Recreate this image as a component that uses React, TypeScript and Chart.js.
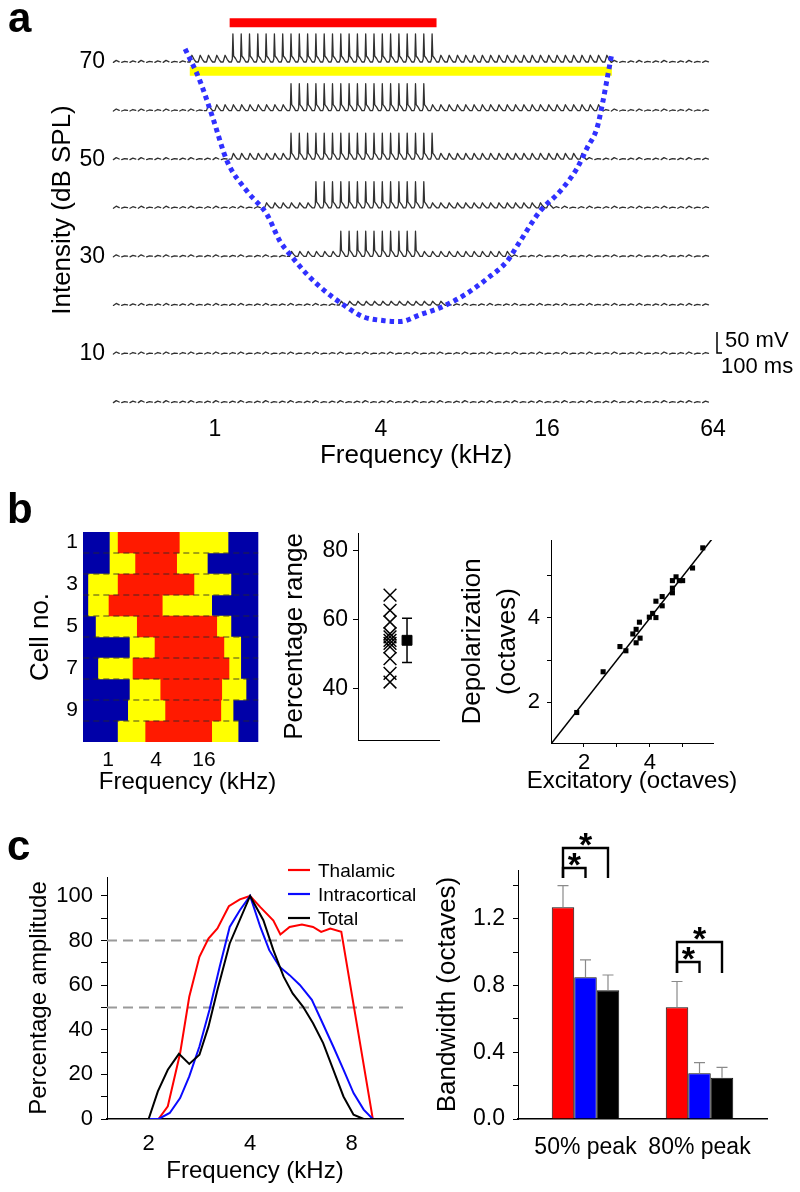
import React, { useEffect, useRef } from "react";
import { Chart, registerables } from "chart.js";

Chart.register(...registerables);

const FONT = "'Liberation Sans', Arial, Helvetica, sans-serif";
Chart.defaults.font.family = FONT;
Chart.defaults.color = "#000";

/* ================= DATA ================= */

/* ---- panel a : tuning-curve traces ---- */
const aFreqTicksKHz = [1, 4, 16, 64];
const aLevelTicksDB = [10, 30, 50, 70];
const traceLevelsDB = [70, 60, 50, 40, 30, 20, 10, 0];
const traceSpikeLoKHz = [1.16, 1.77, 1.77, 2.3, 2.68, 0, 0, 0];
const traceSpikeHiKHz = [6.2, 5.8, 6.2, 5.8, 5.4, 0, 0, 0];
const tracePspLoKHz = [0.8, 0.92, 1.09, 1.48, 1.87, 2.83, 0, 0];
const tracePspHiKHz = [27.5, 25.3, 21.4, 16.7, 11.7, 6.96, 0, 0];
const traceSpikeMV = [67, 64, 62, 62, 60, 0, 0, 0];
const tracePspMV = [16, 14, 14, 12, 12, 9, 0, 0];
const toneLowKHz = 0.44;
const toneHighKHz = 60;
const tonesPerOctave = 10;
const thresholdKHz = [0.779, 0.882, 0.983, 1.106, 1.307, 1.544, 1.721, 1.871, 2.156, 2.464, 2.912, 3.441, 4.067, 4.688, 5.541, 6.713, 8.202, 9.693, 11.456, 12.771, 15.095, 17.84, 20.55, 22.35, 24.29, 25.54, 26.63, 27.53];
const thresholdDB = [72.7, 66.1, 58.4, 49.6, 43.4, 38.6, 33.1, 30.4, 26.3, 23.2, 20.1, 17.6, 16.8, 16.6, 18.0, 19.7, 22.4, 25.4, 29.0, 33.1, 39.3, 43.4, 48.1, 52.3, 56.4, 62.0, 67.5, 71.9];
const spikeBarKHz = [1.13, 6.36];
const spikeBarDB = 78.1;
const subBarKHz = [0.81, 27.5];
const subBarDB = 68.1;
const scaleBarMV = 50;

/* ---- panel b : map ---- */
const cellLabels = ["1", "2", "3", "4", "5", "6", "7", "8", "9", "10"];
const yellowLoKHz = [1.06, 1.06, 0.57, 0.57, 0.71, 1.89, 0.76, 1.89, 1.8, 1.34];
const redLoKHz = [1.34, 2.22, 1.34, 1.03, 2.33, 3.89, 2.06, 4.59, 5.28, 2.97];
const redHiKHz = [7.84, 7.26, 11.96, 4.79, 23.1, 28.4, 32.9, 26.7, 26.0, 19.97];
const yellowHiKHz = [32.0, 17.6, 34.8, 19.97, 34.8, 46.2, 46.2, 53.8, 37.0, 42.8];
const mapLoKHz = 0.49;
const mapHiKHz = 76;
const mapTicksKHz = [1, 4, 16];

/* ---- panel b : percentage range ---- */
const pctRange = [67, 62.6, 59.2, 55.8, 54.9, 53.9, 53.0, 52.0, 48.6, 44.3, 41.8];
const pctMean = 53.9;
const pctSD = 6.4;
const pctTicks = [40, 60, 80];

/* ---- panel b : depolarization vs excitatory ---- */
const excOct = [1.78, 2.58, 3.09, 3.27, 3.48, 3.58, 3.58, 3.7, 3.68, 3.98, 4.08, 4.18, 4.18, 4.37, 4.37, 4.68, 4.68, 4.68, 4.79, 4.89, 4.99, 5.29, 5.6];
const depOct = [1.75, 2.72, 3.32, 3.22, 3.62, 3.73, 3.41, 3.52, 3.9, 4.02, 4.11, 4.01, 4.4, 4.51, 4.29, 4.6, 4.71, 4.89, 4.98, 4.89, 4.89, 5.19, 5.67];
const octTicks = [2, 3, 4, 5];

/* ---- panel c : tuning profiles ---- */
const thalKHz = [1.5, 2.14, 2.28, 2.48, 2.64, 2.83, 3.01, 3.2, 3.46, 3.73, 4.0, 4.29, 4.69, 4.92, 5.24, 5.7, 6.15, 6.5, 6.92, 7.46, 9.25, 11.4];
const thalAmp = [0, 0, 5.7, 29.5, 54.8, 72.7, 80.9, 85.4, 95.4, 98.5, 100, 95, 89, 82.7, 86.1, 87.2, 86.1, 83.9, 85.4, 83.9, 0, 0];
const intraKHz = [1.5, 2.14, 2.31, 2.48, 2.64, 2.83, 3.03, 3.25, 3.48, 3.73, 4.0, 4.29, 4.56, 4.89, 5.24, 5.62, 6.1, 6.5, 7.06, 7.57, 8.11, 8.69, 9.25, 11.4];
const intraAmp = [0, 0, 2.7, 9.4, 19.1, 32.5, 48.9, 68.3, 86.1, 93.6, 100, 86.1, 75.7, 68.3, 64.5, 60.1, 53.4, 44.4, 32.5, 22.1, 11.6, 4.2, 0, 0];
const totalKHz = [1.5, 2.0, 2.13, 2.28, 2.46, 2.64, 2.83, 3.01, 3.2, 3.48, 4.0, 4.38, 4.69, 5.03, 5.35, 5.74, 6.15, 6.59, 7.06, 7.57, 8.11, 8.69, 11.4];
const totalAmp = [0, 0, 12.4, 22.1, 29.2, 24.7, 28.8, 41.4, 57.8, 78.7, 100, 89.1, 75.7, 63.8, 56.3, 50.4, 42.9, 34.0, 22.1, 10.1, 1.9, 0, 0];
const refLevels = [80, 50];
const cFreqTicksKHz = [2, 4, 8];

/* ---- panel c : bandwidth ---- */
const groupLabels = ["50% peak", "80% peak"];
const groupPos = [1, 2];
const thalBW = [1.27, 0.67];
const thalErr = [0.13, 0.155];
const intraBW = [0.85, 0.274];
const intraErr = [0.105, 0.064];
const totalBW = [0.772, 0.248];
const totalErr = [0.092, 0.062];
const sigBrackets = [
  { group: 0, a: 0, b: 2, top: 1.626, foot: 1.446 },
  { group: 0, a: 0, b: 1, top: 1.506, foot: 1.446 },
  { group: 1, a: 0, b: 2, top: 1.062, foot: 0.876 },
  { group: 1, a: 0, b: 1, top: 0.942, foot: 0.876 },
];

/* ================= LAYOUT ================= */
type Box = { left: number; top: number; width: number; height: number };
type Area = { l: number; t: number; r: number; b: number };

const boxA: Box = { left: 0, top: 0, width: 800, height: 480 };
const areaA: Area = { l: 110, t: 10, r: 722, b: 410 };
const boxB1: Box = { left: 0, top: 480, width: 320, height: 330 };
const areaB1: Area = { l: 83, t: 532, r: 292, b: 742 };
const boxB2: Box = { left: 270, top: 480, width: 190, height: 330 };
const areaB2: Area = { l: 358, t: 533, r: 439, b: 740 };
const boxB3: Box = { left: 440, top: 480, width: 360, height: 330 };
const areaB3: Area = { l: 551, t: 540, r: 713, b: 743 };
const boxC1: Box = { left: 0, top: 780, width: 430, height: 412 };
const areaC1: Area = { l: 107, t: 877, r: 403, b: 1119 };
const boxC2: Box = { left: 430, top: 780, width: 370, height: 412 };
const areaC2: Area = { l: 518, t: 870, r: 767, b: 1119 };

const boxes = [boxA, boxB1, boxB2, boxB3, boxC1, boxC2];

const LH = 1.2;
function layoutFor(b: Box, a: Area) {
  return {
    autoPadding: false,
    padding: { left: 0, right: b.left + b.width - a.r, top: a.t - b.top, bottom: 0 },
  };
}
function fitLeft(b: Box, a: Area) {
  const w = a.l - b.left;
  return (s: any) => {
    s.width = w;
    s.paddingTop = 0; s.paddingBottom = 0; s.paddingLeft = 0; s.paddingRight = 0;
  };
}
function fitBottom(b: Box, a: Area) {
  const h = b.top + b.height - a.b;
  return (s: any) => {
    s.height = h;
    s.paddingTop = 0; s.paddingBottom = 0; s.paddingLeft = 0; s.paddingRight = 0;
  };
}
const leftTitlePad = (b: Box, cx: number, size: number, k = LH) => ({ top: cx - b.left - (size * k) / 2, bottom: 0 });
const bottomTitlePad = (b: Box, cy: number, size: number) => ({ top: 0, bottom: b.top + b.height - (size * LH) / 2 - cy });
const bottomTickPad = (a: Area, cy: number, size: number, tick = 0) => cy - a.b - tick - (size * LH) / 2;
const leftTickPad = (a: Area, rightX: number, tick = 0) => a.l - tick - rightX;

const baseOptions = (b: Box, a: Area) => ({
  responsive: false,
  animation: false,
  devicePixelRatio: 1,
  events: [],
  layout: layoutFor(b, a),
  plugins: { legend: { display: false }, tooltip: { enabled: false }, title: { display: false } },
});

function panelLetter(ctx: any, t: string, x: number, y: number) {
  ctx.save();
  ctx.fillStyle = "#000";
  ctx.font = `bold 42px ${FONT}`;
  ctx.textBaseline = "alphabetic";
  ctx.textAlign = "left";
  ctx.fillText(t, x, y);
  ctx.restore();
}

/* ================= PANEL A ================= */
const mvToPx = 0.42;
const tracesPlugin = {
  id: "traces",
  beforeDatasetsDraw(chart: any) {
    const { ctx, scales } = chart;
    const xs = scales.x;
    const ys = scales.y;
    const o0 = Math.log2(toneLowKHz);
    const o1 = Math.log2(toneHighKHz);
    const n = Math.round((o1 - o0) * tonesPerOctave);
    ctx.save();
    ctx.strokeStyle = "#303030";
    ctx.lineWidth = 1.3;
    ctx.lineJoin = "round";
    ctx.lineCap = "round";
    traceLevelsDB.forEach((lvl, r) => {
      const y0 = ys.getPixelForValue(lvl);
      ctx.beginPath();
      let pen = false;
      for (let i = 0; i <= n; i++) {
        const f = Math.pow(2, o0 + i / tonesPerOctave);
        const xc = xs.getPixelForValue(f);
        const dx = xs.getPixelForValue(Math.pow(2, o0 + (i + 1) / tonesPerOctave)) - xc;
        const spike = traceSpikeMV[r] > 0 && f >= traceSpikeLoKHz[r] && f <= traceSpikeHiKHz[r];
        const psp = !spike && tracePspMV[r] > 0 && f >= tracePspLoKHz[r] && f <= tracePspHiKHz[r];
        if (spike || psp) {
          if (!pen) { ctx.moveTo(xc - dx * 0.45, y0); pen = true; }
          if (spike) {
            const h = traceSpikeMV[r] * mvToPx;
            ctx.lineTo(xc - 1.5, y0);
            ctx.lineTo(xc - 0.6, y0 - 3);
            ctx.lineTo(xc, y0 - h);
            ctx.lineTo(xc + 0.7, y0 - 6);
            ctx.lineTo(xc + 2.6, y0 - 3.5);
            ctx.lineTo(xc + dx * 0.55, y0);
          } else {
            const h = tracePspMV[r] * mvToPx;
            ctx.lineTo(xc - 1.5, y0);
            ctx.lineTo(xc + 0.5, y0 - h);
            ctx.lineTo(xc + 2.6, y0 - h * 0.4);
            ctx.lineTo(xc + dx * 0.55, y0);
          }
        } else {
          // resting membrane: short broken segments
          pen = false;
          const w = i % 3 === 0 ? 1.6 : i % 3 === 1 ? 0.6 : 1.1;
          ctx.moveTo(xc - dx * 0.4, y0 + 0.4);
          ctx.lineTo(xc - 0.5, y0 - w);
          ctx.lineTo(xc + dx * 0.3, y0 - 0.2);
        }
      }
      ctx.stroke();
    });
    ctx.restore();
  },
  afterDraw(chart: any) {
    const { ctx } = chart;
    panelLetter(ctx, "a", 8 - boxA.left, 32 - boxA.top);
    // scale bar
    const bx = 717 - boxA.left;
    const by = 353 - boxA.top;
    const vh = scaleBarMV * mvToPx;
    ctx.save();
    ctx.strokeStyle = "#000";
    ctx.lineWidth = 1.5;
    ctx.beginPath();
    ctx.moveTo(bx, by - vh);
    ctx.lineTo(bx, by);
    ctx.lineTo(bx + 5, by);
    ctx.stroke();
    ctx.fillStyle = "#000";
    ctx.font = `22px ${FONT}`;
    ctx.textBaseline = "middle";
    ctx.textAlign = "left";
    ctx.fillText("50 mV", 725 - boxA.left, 341 - boxA.top);
    ctx.fillText("100 ms", 721 - boxA.left, 367 - boxA.top);
    ctx.restore();
  },
};

function configA(): any {
  return {
    type: "scatter",
    data: {
      datasets: [
        {
          label: "Threshold",
          data: thresholdKHz.map((f, i) => ({ x: f, y: thresholdDB[i] })),
          showLine: true,
          borderColor: "#3030ff",
          borderWidth: 5,
          borderDash: [4.5, 4],
          borderCapStyle: "butt",
          pointRadius: 0,
          cubicInterpolationMode: "monotone",
          clip: false,
        },
        {
          label: "Spiking range",
          data: spikeBarKHz.map((f) => ({ x: f, y: spikeBarDB })),
          showLine: true,
          borderColor: "#ff0000",
          borderWidth: 9,
          borderCapStyle: "butt",
          pointRadius: 0,
        },
        {
          label: "Subthreshold range",
          data: subBarKHz.map((f) => ({ x: f, y: subBarDB })),
          showLine: true,
          borderColor: "#ffff00",
          borderWidth: 9,
          borderCapStyle: "butt",
          pointRadius: 0,
        },
      ],
    },
    options: {
      ...baseOptions(boxA, areaA),
      scales: {
        x: {
          type: "logarithmic",
          min: 0.416,
          max: 69,
          afterBuildTicks: (s: any) => { s.ticks = aFreqTicksKHz.map((v) => ({ value: v })); },
          ticks: { callback: (v: any) => String(v), font: { size: 23 }, color: "#000", padding: bottomTickPad(areaA, 430, 23), maxRotation: 0, autoSkip: false },
          grid: { display: false, drawTicks: false },
          border: { display: false },
          title: { display: true, text: "Frequency (kHz)", font: { size: 26 }, color: "#000", padding: bottomTitlePad(boxA, 456, 26) },
          afterFit: fitBottom(boxA, areaA),
        },
        y: {
          type: "linear",
          min: -1.6,
          max: 80.7,
          afterBuildTicks: (s: any) => { s.ticks = aLevelTicksDB.map((v) => ({ value: v })); },
          ticks: { font: { size: 23 }, color: "#000", padding: leftTickPad(areaA, 105), autoSkip: false },
          grid: { display: false, drawTicks: false },
          border: { display: false },
          title: { display: true, text: "Intensity (dB SPL)", font: { size: 26 }, color: "#000", padding: leftTitlePad(boxA, 63, 26) },
          afterFit: fitLeft(boxA, areaA),
        },
      },
    },
    plugins: [tracesPlugin],
  };
}

/* ================= PANEL B1 ================= */
const mapPlugin = {
  id: "mapExtras",
  afterDatasetsDraw(chart: any) {
    const { ctx, scales } = chart;
    const x0 = scales.x.getPixelForValue(mapLoKHz);
    const x1 = scales.x.getPixelForValue(mapHiKHz);
    ctx.save();
    ctx.strokeStyle = "rgba(40,40,40,0.85)";
    ctx.lineWidth = 1;
    ctx.setLineDash([6, 4]);
    for (let i = 1; i < cellLabels.length; i++) {
      const y = (scales.y.getPixelForValue(i - 1) + scales.y.getPixelForValue(i)) / 2;
      ctx.beginPath();
      ctx.moveTo(x0, y);
      ctx.lineTo(x1, y);
      ctx.stroke();
    }
    ctx.restore();
  },
  afterDraw(chart: any) {
    panelLetter(chart.ctx, "b", 7 - boxB1.left, 523 - boxB1.top);
  },
};

function configB1(): any {
  return {
    type: "bar",
    data: {
      labels: cellLabels,
      datasets: [
        { label: "Spiking", data: redLoKHz.map((v, i) => [v, redHiKHz[i]]), backgroundColor: "#ff1a00" },
        { label: "Subthreshold", data: yellowLoKHz.map((v, i) => [v, yellowHiKHz[i]]), backgroundColor: "#ffff00" },
        { label: "No response", data: cellLabels.map(() => [mapLoKHz, mapHiKHz]), backgroundColor: "#0000a8" },
      ],
    },
    options: {
      ...baseOptions(boxB1, areaB1),
      indexAxis: "y",
      datasets: { bar: { grouped: false, barPercentage: 1, categoryPercentage: 1, borderWidth: 0 } },
      scales: {
        x: {
          type: "logarithmic",
          min: 0.486,
          max: 203,
          afterBuildTicks: (s: any) => { s.ticks = mapTicksKHz.map((v) => ({ value: v })); },
          ticks: { callback: (v: any) => String(v), font: { size: 21 }, color: "#000", padding: bottomTickPad(areaB1, 760, 21), maxRotation: 0, autoSkip: false },
          grid: { display: false, drawTicks: false },
          border: { display: false },
          title: { display: true, text: "Frequency (kHz)", font: { size: 24 }, color: "#000", padding: bottomTitlePad(boxB1, 782, 24) },
          afterFit: fitBottom(boxB1, areaB1),
        },
        y: {
          type: "category",
          ticks: {
            callback: (_v: any, idx: number) => (idx % 2 === 0 ? cellLabels[idx] : ""),
            font: { size: 21 }, color: "#000", padding: leftTickPad(areaB1, 78), autoSkip: false,
          },
          grid: { display: false, drawTicks: false },
          border: { display: false },
          title: { display: true, text: "Cell no.", font: { size: 26 }, color: "#000", padding: leftTitlePad(boxB1, 41, 26) },
          afterFit: fitLeft(boxB1, areaB1),
        },
      },
    },
    plugins: [mapPlugin],
  };
}

/* ================= PANEL B2 ================= */
const pctPlugin = {
  id: "pctErr",
  beforeDatasetsDraw(chart: any) {
    const { ctx, scales } = chart;
    const el = chart.getDatasetMeta(1).data[0];
    const top = scales.y.getPixelForValue(pctMean + pctSD);
    const bot = scales.y.getPixelForValue(pctMean - pctSD);
    ctx.save();
    ctx.strokeStyle = "#000";
    ctx.lineWidth = 1.5;
    ctx.beginPath();
    ctx.moveTo(el.x, top); ctx.lineTo(el.x, bot);
    ctx.moveTo(el.x - 5, top); ctx.lineTo(el.x + 5, top);
    ctx.moveTo(el.x - 5, bot); ctx.lineTo(el.x + 5, bot);
    ctx.stroke();
    ctx.restore();
  },
};

function configB2(): any {
  return {
    type: "scatter",
    data: {
      datasets: [
        {
          label: "Cells",
          data: pctRange.map((v) => ({ x: 1, y: v })),
          pointStyle: "crossRot",
          pointRadius: 9,
          pointBorderColor: "#000",
          pointBackgroundColor: "rgba(0,0,0,0)",
          pointBorderWidth: 1.5,
        },
        {
          label: "Mean",
          data: [{ x: 2, y: pctMean }],
          pointStyle: "rect",
          pointRadius: 7,
          pointBorderColor: "#000",
          pointBackgroundColor: "#000",
          pointBorderWidth: 1,
        },
      ],
    },
    options: {
      ...baseOptions(boxB2, areaB2),
      scales: {
        x: {
          type: "linear",
          min: -0.882,
          max: 3.88,
          ticks: { display: false },
          grid: { display: false, drawTicks: false },
          border: { display: true, color: "#000", width: 1 },
          afterFit: fitBottom(boxB2, areaB2),
        },
        y: {
          type: "linear",
          min: 25,
          max: 85,
          afterBuildTicks: (s: any) => { s.ticks = pctTicks.map((v) => ({ value: v })); },
          ticks: { font: { size: 23 }, color: "#000", padding: leftTickPad(areaB2, 348, 5), autoSkip: false },
          grid: { display: true, drawOnChartArea: false, drawTicks: true, tickLength: 5, color: "#000" },
          border: { display: true, color: "#000", width: 1 },
          title: { display: true, text: "Percentage range", font: { size: 26 }, color: "#000", padding: leftTitlePad(boxB2, 295, 26) },
          afterFit: fitLeft(boxB2, areaB2),
        },
      },
    },
    plugins: [pctPlugin],
  };
}

/* ================= PANEL B3 ================= */
const b3TitlePlugin = {
  id: "b3Title",
  afterDraw(chart: any) {
    const { ctx, chartArea } = chart;
    ctx.save();
    ctx.fillStyle = "#000";
    ctx.font = `24px ${FONT}`;
    ctx.textAlign = "center";
    ctx.textBaseline = "middle";
    ctx.fillText("Excitatory (octaves)", (chartArea.left + chartArea.right) / 2, 781 - boxB3.top);
    ctx.restore();
  },
};

function configB3(): any {
  return {
    type: "scatter",
    data: {
      datasets: [
        {
          label: "Cells",
          data: excOct.map((v, i) => ({ x: v, y: depOct[i] })),
          pointStyle: "rect",
          pointRadius: 3.6,
          pointBackgroundColor: "#000",
          pointBorderColor: "#000",
          pointBorderWidth: 0,
        },
        {
          label: "Unity",
          data: [{ x: 1, y: 1 }, { x: 6, y: 6 }],
          showLine: true,
          borderColor: "#000",
          borderWidth: 1.5,
          pointRadius: 0,
        },
      ],
    },
    options: {
      ...baseOptions(boxB3, areaB3),
      scales: {
        x: {
          type: "linear",
          min: 1,
          max: 5.91,
          afterBuildTicks: (s: any) => { s.ticks = octTicks.map((v) => ({ value: v })); },
          ticks: { callback: (v: any) => (v % 2 === 0 ? String(v) : ""), font: { size: 22 }, color: "#000", padding: bottomTickPad(areaB3, 763, 22, 4), maxRotation: 0, autoSkip: false },
          grid: { display: true, drawOnChartArea: false, drawTicks: true, tickLength: 4, color: "#000" },
          border: { display: true, color: "#000", width: 1 },
          afterFit: fitBottom(boxB3, areaB3),
        },
        y: {
          type: "linear",
          min: 1.024,
          max: 5.857,
          afterBuildTicks: (s: any) => { s.ticks = octTicks.map((v) => ({ value: v })); },
          ticks: { callback: (v: any) => (v % 2 === 0 ? String(v) : ""), font: { size: 22 }, color: "#000", padding: leftTickPad(areaB3, 540, 4), autoSkip: false },
          grid: { display: true, drawOnChartArea: false, drawTicks: true, tickLength: 4, color: "#000" },
          border: { display: true, color: "#000", width: 1 },
          title: {
            display: true,
            text: ["Depolarization", "(octaves)"],
            font: { size: 26, lineHeight: 1.346 },
            color: "#000",
            padding: leftTitlePad(boxB3, 473, 26, 1.346),
          },
          afterFit: fitLeft(boxB3, areaB3),
        },
      },
    },
    plugins: [b3TitlePlugin],
  };
}

/* ================= PANEL C1 ================= */
const profilePlugin = {
  id: "profileLegend",
  afterDraw(chart: any) {
    const { ctx } = chart;
    panelLetter(ctx, "c", 7 - boxC1.left, 860 - boxC1.top);
    const items = chart.data.datasets.filter((d: any) => d.inLegend);
    items.sort((p: any, q: any) => p.legendRank - q.legendRank);
    ctx.save();
    ctx.font = `19px ${FONT}`;
    ctx.textBaseline = "middle";
    ctx.textAlign = "left";
    items.forEach((d: any, i: number) => {
      const ty = 872 - boxC1.top + i * 24;
      ctx.strokeStyle = d.borderColor;
      ctx.lineWidth = 2.2;
      ctx.beginPath();
      ctx.moveTo(288 - boxC1.left, ty - 2);
      ctx.lineTo(310 - boxC1.left, ty - 2);
      ctx.stroke();
      ctx.fillStyle = "#000";
      ctx.fillText(d.label, 318 - boxC1.left, ty);
    });
    ctx.restore();
  },
};

function configC1(): any {
  const line = (label: string, xs: number[], ys: number[], color: string, rank: number) => ({
    label,
    data: xs.map((x, i) => ({ x, y: ys[i] })),
    showLine: true,
    borderColor: color,
    borderWidth: 2,
    pointRadius: 0,
    inLegend: true,
    legendRank: rank,
  });
  return {
    type: "scatter",
    data: {
      datasets: [
        line("Total", totalKHz, totalAmp, "#000000", 2),
        line("Intracortical", intraKHz, intraAmp, "#0a0aff", 1),
        line("Thalamic", thalKHz, thalAmp, "#ff0000", 0),
        ...refLevels.map((lv) => ({
          label: `${lv}% level`,
          data: [{ x: 1.505, y: lv }, { x: 11.37, y: lv }],
          showLine: true,
          borderColor: "#9a9a9a",
          borderWidth: 2,
          borderDash: [10, 6],
          pointRadius: 0,
        })),
      ],
    },
    options: {
      ...baseOptions(boxC1, areaC1),
      scales: {
        x: {
          type: "logarithmic",
          min: 1.505,
          max: 11.37,
          afterBuildTicks: (s: any) => { s.ticks = cFreqTicksKHz.map((v) => ({ value: v })); },
          ticks: { callback: (v: any) => String(v), font: { size: 22 }, color: "#000", padding: bottomTickPad(areaC1, 1143.5, 22), maxRotation: 0, autoSkip: false },
          grid: { display: false, drawTicks: false },
          border: { display: true, color: "#000", width: 1.5 },
          title: { display: true, text: "Frequency (kHz)", font: { size: 24 }, color: "#000", padding: bottomTitlePad(boxC1, 1171, 24) },
          afterFit: fitBottom(boxC1, areaC1),
        },
        y: {
          type: "linear",
          min: 0,
          max: 108.5,
          afterBuildTicks: (s: any) => { s.ticks = Array.from({ length: 11 }, (_, i) => ({ value: i * 10 })); },
          ticks: { callback: (v: any, idx: number) => (idx % 2 === 0 ? String(v) : ""), font: { size: 22 }, color: "#000", padding: leftTickPad(areaC1, 93, 6), autoSkip: false },
          grid: { display: true, drawOnChartArea: false, drawTicks: true, tickLength: 6, color: "#000" },
          border: { display: true, color: "#000", width: 1 },
          title: { display: true, text: "Percentage amplitude", font: { size: 24 }, color: "#000", padding: leftTitlePad(boxC1, 39, 24) },
          afterFit: fitLeft(boxC1, areaC1),
        },
      },
    },
    plugins: [profilePlugin],
  };
}

/* ================= PANEL C2 ================= */
const bwPlugin = {
  id: "bwExtras",
  afterDatasetsDraw(chart: any) {
    const { ctx, scales } = chart;
    ctx.save();
    ctx.strokeStyle = "#8a8a8a";
    ctx.lineWidth = 1.2;
    chart.data.datasets.forEach((ds: any, di: number) => {
      const meta = chart.getDatasetMeta(di);
      meta.data.forEach((el: any, i: number) => {
        const top = scales.y.getPixelForValue(ds.data[i].y + ds.err[i]);
        ctx.beginPath();
        ctx.moveTo(el.x, el.y);
        ctx.lineTo(el.x, top);
        ctx.moveTo(el.x - 5.5, top);
        ctx.lineTo(el.x + 5.5, top);
        ctx.stroke();
      });
    });
    ctx.restore();
  },
  afterDraw(chart: any) {
    const { ctx, scales } = chart;
    ctx.save();
    ctx.strokeStyle = "#000";
    ctx.lineWidth = 2.4;
    ctx.lineJoin = "miter";
    ctx.fillStyle = "#000";
    ctx.font = `bold 34px ${FONT}`;
    ctx.textAlign = "center";
    ctx.textBaseline = "alphabetic";
    const m = ctx.measureText("*");
    sigBrackets.forEach((bk) => {
      const xa = chart.getDatasetMeta(bk.a).data[bk.group].x;
      const xb = chart.getDatasetMeta(bk.b).data[bk.group].x;
      const yt = scales.y.getPixelForValue(bk.top);
      const yf = scales.y.getPixelForValue(bk.foot);
      ctx.beginPath();
      ctx.moveTo(xa, yf);
      ctx.lineTo(xa, yt);
      ctx.lineTo(xb, yt);
      ctx.lineTo(xb, yf);
      ctx.stroke();
      const base = yt - 2 - m.actualBoundingBoxDescent;
      ctx.fillText("*", (xa + xb) / 2, base);
    });
    ctx.restore();
  },
};

function configC2(): any {
  const bars = (label: string, vals: number[], errs: number[], color: string) => ({
    label,
    data: groupPos.map((g, i) => ({ x: g, y: vals[i] })),
    err: errs,
    backgroundColor: color,
    borderColor: "#111",
    borderWidth: 1,
  });
  return {
    type: "bar",
    data: {
      datasets: [
        bars("Thalamic", thalBW, thalErr, "#ff0000"),
        bars("Intracortical", intraBW, intraErr, "#0000ff"),
        bars("Total", totalBW, totalErr, "#000000"),
      ],
    },
    options: {
      ...baseOptions(boxC2, areaC2),
      datasets: { bar: { categoryPercentage: 0.592, barPercentage: 1 } },
      scales: {
        x: {
          type: "linear",
          offset: false,
          min: 0.408,
          max: 2.592,
          afterBuildTicks: (s: any) => { s.ticks = groupPos.map((v) => ({ value: v })); },
          ticks: { callback: (v: any) => groupLabels[Math.round(v) - 1], font: { size: 23 }, color: "#000", padding: bottomTickPad(areaC2, 1148, 23), maxRotation: 0, autoSkip: false },
          grid: { display: false, drawTicks: false },
          border: { display: true, color: "#000", width: 1.5 },
          afterFit: fitBottom(boxC2, areaC2),
        },
        y: {
          type: "linear",
          min: 0,
          max: 1.494,
          afterBuildTicks: (s: any) => { s.ticks = Array.from({ length: 8 }, (_, i) => ({ value: i * 0.2 })); },
          ticks: { callback: (v: any, idx: number) => (idx % 2 === 0 ? Number(v).toFixed(1) : ""), font: { size: 23 }, color: "#000", padding: leftTickPad(areaC2, 505, 5), autoSkip: false },
          grid: { display: true, drawOnChartArea: false, drawTicks: true, tickLength: 5, color: "#000" },
          border: { display: true, color: "#000", width: 1 },
          title: { display: true, text: "Bandwidth (octaves)", font: { size: 26 }, color: "#000", padding: leftTitlePad(boxC2, 448, 26) },
          afterFit: fitLeft(boxC2, areaC2),
        },
      },
    },
    plugins: [bwPlugin],
  };
}

/* ================= APP ================= */
export default function App() {
  const r0 = useRef<HTMLCanvasElement>(null);
  const r1 = useRef<HTMLCanvasElement>(null);
  const r2 = useRef<HTMLCanvasElement>(null);
  const r3 = useRef<HTMLCanvasElement>(null);
  const r4 = useRef<HTMLCanvasElement>(null);
  const r5 = useRef<HTMLCanvasElement>(null);
  const refs = [r0, r1, r2, r3, r4, r5];

  useEffect(() => {
    const makers = [configA, configB1, configB2, configB3, configC1, configC2];
    const charts = makers.map((mk, i) => new Chart(refs[i].current as HTMLCanvasElement, mk()));
    return () => charts.forEach((c) => c.destroy());
  }, []);

  return (
    <div style={{ position: "absolute", left: 0, top: 0, width: 800, height: 1192, background: "#fff", overflow: "hidden" }}>
      {boxes.map((b, i) => (
        <canvas
          key={i}
          ref={refs[i]}
          width={b.width}
          height={b.height}
          style={{ position: "absolute", left: b.left, top: b.top, width: b.width, height: b.height }}
        />
      ))}
    </div>
  );
}
